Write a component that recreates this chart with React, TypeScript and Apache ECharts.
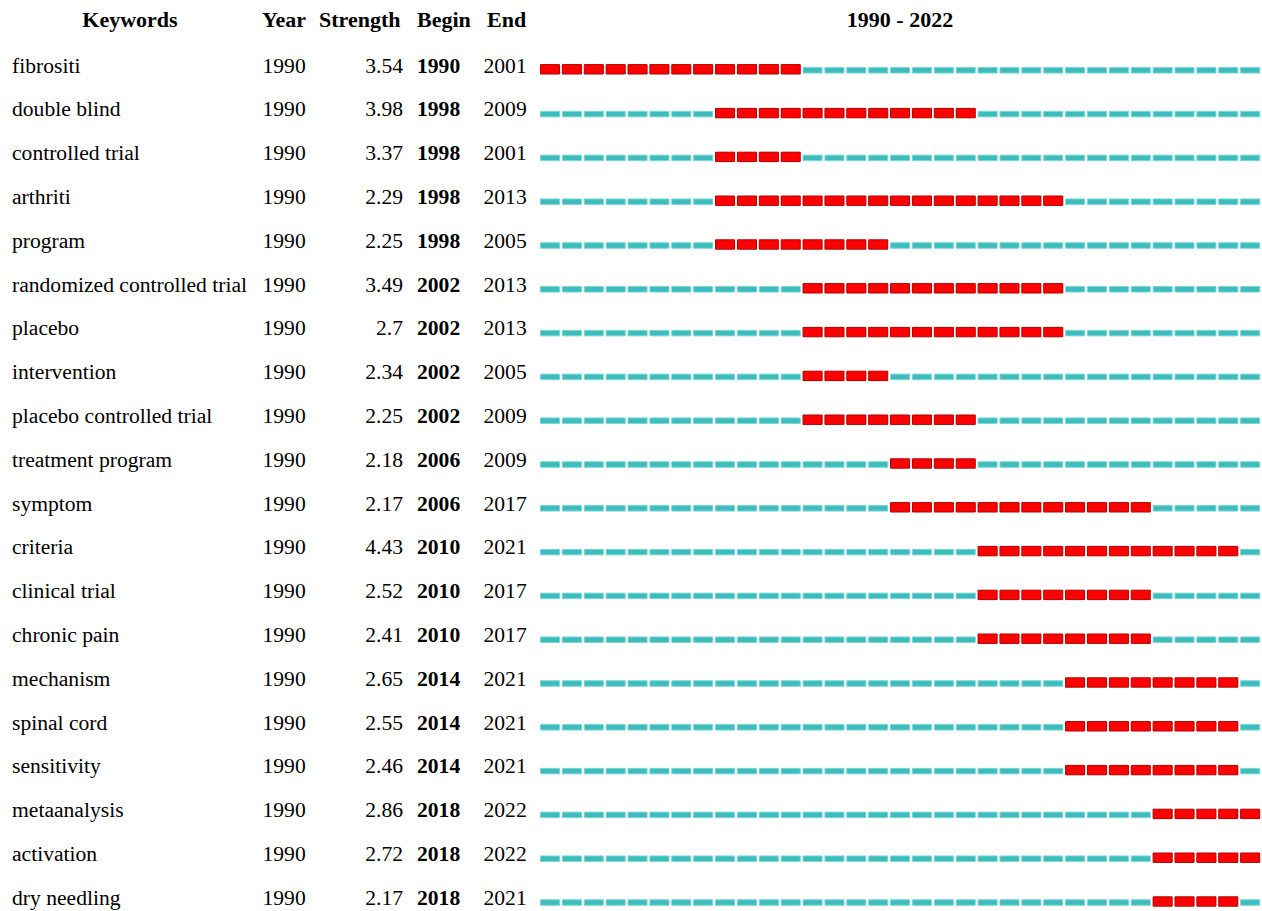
import React, { useEffect, useRef } from "react";
import * as echarts from "echarts";

const keywords = [
  "fibrositi", "double blind", "controlled trial", "arthriti", "program",
  "randomized controlled trial", "placebo", "intervention", "placebo controlled trial",
  "treatment program", "symptom", "criteria", "clinical trial", "chronic pain",
  "mechanism", "spinal cord", "sensitivity", "metaanalysis", "activation", "dry needling",
];
const years = [1990, 1990, 1990, 1990, 1990, 1990, 1990, 1990, 1990, 1990, 1990, 1990, 1990, 1990, 1990, 1990, 1990, 1990, 1990, 1990];
const strengths = [3.54, 3.98, 3.37, 2.29, 2.25, 3.49, 2.7, 2.34, 2.25, 2.18, 2.17, 4.43, 2.52, 2.41, 2.65, 2.55, 2.46, 2.86, 2.72, 2.17];
const begins = [1990, 1998, 1998, 1998, 1998, 2002, 2002, 2002, 2002, 2006, 2006, 2010, 2010, 2010, 2014, 2014, 2014, 2018, 2018, 2018];
const ends = [2001, 2009, 2001, 2013, 2005, 2013, 2013, 2005, 2009, 2009, 2017, 2021, 2017, 2017, 2021, 2021, 2021, 2022, 2022, 2021];
const timeline = [1990, 2022];
const headers = ["Keywords", "Year", "Strength", "Begin", "End"];

const FONT = "'Liberation Serif', 'Times New Roman', serif";
const GRID_LEFT = 540;

export default function App() {
  const ref = useRef<HTMLDivElement>(null);
  useEffect(() => {
    document.body.style.margin = "0";
    const chart = echarts.init(ref.current!, null, { renderer: "svg" });
    const data: number[][] = [];
    keywords.forEach((_, i) => {
      for (let y = timeline[0]; y <= timeline[1]; y++) {
        data.push([y, i, y >= begins[i] && y <= ends[i] ? 1 : 0]);
      }
    });
    const rowFont = { fontFamily: FONT, fontSize: 21.6, color: "#000" };
    const headFont = { fontFamily: FONT, fontSize: 22, fill: "#000", fontWeight: "bold" as const };
    const hidden = { axisLine: { show: false }, axisTick: { show: false }, splitLine: { show: false } };
    const column = (
      textOf: (i: number) => string,
      leftX: number,
      align: "left" | "right",
      bold = false
    ) => ({
      type: "category",
      gridIndex: 1,
      inverse: true,
      position: "left",
      data: keywords,
      ...hidden,
      axisLabel: {
        ...rowFont,
        fontWeight: bold ? "bold" : "normal",
        margin: GRID_LEFT - leftX,
        align,
        formatter: (_v: string, i: number) => textOf(i),
      },
    });
    chart.setOption({
      animation: false,
      backgroundColor: "#fff",
      grid: [
        { left: GRID_LEFT, right: 0, top: 47.4, height: 876 },
        { left: GRID_LEFT, right: 0, top: 43.6, height: 876 },
      ],
      xAxis: [
        { type: "value", min: timeline[0], max: timeline[1] + 1, show: false },
        { type: "value", gridIndex: 1, min: timeline[0], max: timeline[1] + 1, show: false },
      ],
      yAxis: [
        { type: "category", inverse: true, data: keywords, show: false },
        column((i) => keywords[i], 12, "left"),
        column((i) => String(years[i]), 262.5, "left"),
        column((i) => String(strengths[i]), 403, "right"),
        column((i) => String(begins[i]), 417, "left", true),
        column((i) => String(ends[i]), 483.5, "left"),
      ],
      graphic: [
        { type: "text", x: 130, y: 19.5, style: { text: headers[0], ...headFont, align: "center", verticalAlign: "middle" } },
        { type: "text", x: 262, y: 19.5, style: { text: headers[1], ...headFont, align: "left", verticalAlign: "middle" } },
        { type: "text", x: 319, y: 19.5, style: { text: headers[2], ...headFont, align: "left", verticalAlign: "middle" } },
        { type: "text", x: 417, y: 19.5, style: { text: headers[3], ...headFont, align: "left", verticalAlign: "middle" } },
        { type: "text", x: 487, y: 19.5, style: { text: headers[4], ...headFont, align: "left", verticalAlign: "middle" } },
        { type: "text", x: 900, y: 19.5, style: { text: `${timeline[0]} - ${timeline[1]}`, ...headFont, align: "center", verticalAlign: "middle" } },
      ],
      series: [
        {
          type: "custom",
          xAxisIndex: 0,
          yAxisIndex: 0,
          data,
          renderItem: (_p: any, api: any) => {
            const yr = api.value(0);
            const row = api.value(1);
            const b = api.value(2);
            const p0 = api.coord([yr, row]);
            const p1 = api.coord([yr + 1, row]);
            const w = p1[0] - p0[0];
            if (b) {
              return {
                type: "rect",
                shape: { x: p0[0] + 0.5, y: p0[1] - 4.7, width: w - 2.8, height: 9.4 },
                style: { fill: "#ff0000", stroke: "#b00000", lineWidth: 1 },
              };
            }
            return {
              type: "rect",
              shape: { x: p0[0] + 0.5, y: p0[1] - 1.75, width: w - 2.8, height: 5.5 },
              style: { fill: "#3cbcbc", stroke: "#7ad6d6", lineWidth: 1 },
            };
          },
        },
      ],
    });
    return () => chart.dispose();
  }, []);
  return <div ref={ref} style={{ position: "fixed", left: 0, top: 0, width: 1262, height: 940 }} />;
}
